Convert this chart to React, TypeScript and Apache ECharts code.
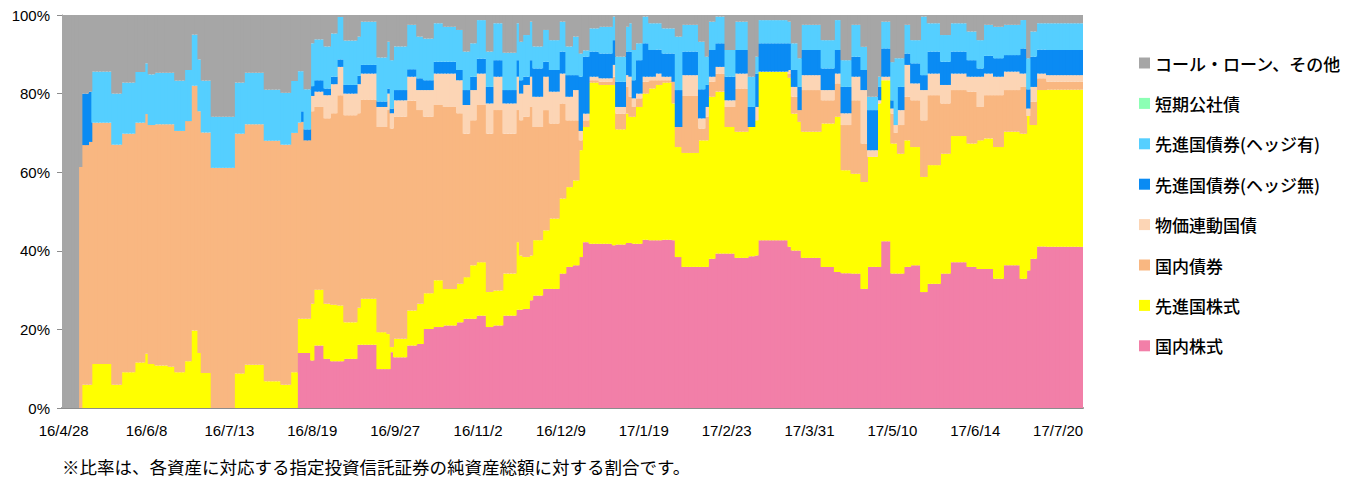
import React, { useEffect, useRef } from "react";
import * as echarts from "echarts";

// Number of business days covered by each constant step (segment) of the chart
const segDays = [
  5, 1, 2, 1, 6, 3, 4, 3, 1, 2, 4, 2, 3, 2, 2, 1, 3, 7, 3, 6, 5, 3, 2, 1, 1,
  2, 1, 3, 2, 2, 2, 4, 1, 5, 3, 1, 1, 4, 3, 2, 3, 3, 4, 2, 2, 2, 3, 2, 3, 4,
  1, 1, 2, 1, 3, 2, 3, 2, 2, 2, 1, 2, 3, 4, 1, 3, 1, 1, 1, 2, 2, 2, 2, 3, 1,
  2, 5, 2, 1, 2, 3, 3, 4, 2, 1, 9, 1, 2, 1, 6, 4, 2, 3, 3, 2, 3, 1, 3, 1, 1,
  2, 2, 3, 2, 4, 3, 5, 3, 2, 3, 3, 5, 2, 1, 2, 3, 11,
];

// Cumulative levels (%): upper edge of each band, per segment
const domesticStockTop = [
  0, 0, 0, 0, 0, 0, 0, 0, 0, 0, 0, 0, 0, 0, 0, 0, 0, 0, 0, 0, 0, 0, 0, 14.0, 14.0,
  14.0, 12.1, 15.9, 12.5, 11.9, 11.9, 12.5, 16.1, 16.1, 9.9, 9.9, 14.2, 12.9, 15.9, 16.3,
  20.1, 20.6, 21.0, 21.8, 22.7, 22.7, 23.5, 20.6, 21.0, 23.5, 25.0, 25.0, 25.2, 27.4, 28.6,
  30.3, 30.3, 34.2, 35.9, 36.3, 38.4, 42.2, 41.8, 41.8, 41.4, 41.6, 42.0, 42.0, 41.8, 41.8,
  42.8, 42.7, 42.7, 42.8, 42.7, 38.4, 35.9, 35.9, 35.9, 38.0, 39.3, 39.3, 38.2, 38.6, 38.8,
  42.7, 41.0, 40.1, 40.1, 38.2, 35.9, 34.6, 34.3, 34.2, 30.3, 35.9, 35.9, 42.4, 34.2, 34.2,
  34.2, 35.9, 36.3, 29.5, 31.6, 34.2, 37.1, 35.9, 35.4, 35.4, 32.9, 36.3, 32.9, 35.0, 38.0,
  41.1, 41.0,
];
const foreignStockTop = [
  0, 0, 5.9, 5.9, 11.2, 5.9, 9.1, 11.6, 13.8, 11.2, 10.8, 10.5, 9.1, 11.9, 19.7, 14.0, 8.9, 0, 8.8, 11.0, 6.8, 5.9, 9.1, 22.7, 22.7,
  22.7, 26.5, 30.1, 26.5, 26.3, 26.1, 21.8, 25.5, 27.8, 19.3, 18.8, 15.5, 17.6, 24.8, 26.5,
  29.2, 32.5, 30.3, 31.6, 33.3, 36.3, 37.1, 29.5, 29.9, 34.2, 42.2, 38.8, 38.4, 38.8, 42.7,
  45.2, 48.2, 53.3, 56.2, 57.9, 65.6, 71.5, 82.8, 82.2, 82.2, 70.9, 74.9, 74.1, 74.1, 76.6,
  80.0, 81.3, 82.2, 82.8, 77.5, 66.4, 64.9, 68.1, 68.1, 79.2, 80.5, 71.5, 70.3, 71.5, 73.2,
  85.5, 84.0, 74.9, 72.8, 70.3, 72.4, 74.1, 60.5, 59.6, 57.5, 63.9, 77.5, 83.4, 67.3, 67.3,
  64.7, 68.1, 66.4, 58.8, 61.8, 64.7, 69.2, 67.3, 68.1, 68.6, 66.4, 70.3, 69.8, 74.3, 72.0,
  80.9, 81.0,
];
const domesticBondTop = [
  0, 61.3, 66.9, 67.7, 72.6, 67.0, 69.8, 72.6, 74.8, 72.0, 72.2, 72.2, 70.5, 73.0, 82.0, 75.5, 70.1, 61.1, 69.8, 72.2, 68.0, 67.0, 70.0, 72.6, 72.8,
  68.1, 75.5, 76.6, 73.7, 75.0, 79.6, 74.5, 75.0, 78.5, 71.5, 75.8, 71.1, 74.1, 78.2, 75.8,
  74.1, 77.1, 76.6, 75.0, 69.8, 73.2, 77.1, 69.8, 75.8, 69.8, 75.8, 73.2, 74.1, 76.6, 71.5,
  75.8, 72.4, 77.5, 73.2, 73.2, 68.1, 73.2, 83.4, 83.0, 84.3, 74.9, 81.7, 79.2, 76.6, 78.8,
  83.0, 83.4, 83.4, 83.4, 83.0, 71.5, 79.4, 71.1, 74.1, 83.0, 85.1, 76.6, 81.3, 71.5, 73.2,
  85.5, 85.0, 79.2, 75.8, 80.9, 78.3, 82.6, 72.0, 78.3, 67.3, 63.9, 77.5, 83.4, 74.9, 70.0,
  72.0, 79.2, 78.3, 73.2, 79.6, 77.5, 80.9, 80.5, 76.6, 79.6, 79.6, 80.9, 81.7, 74.3, 77.9,
  83.9, 83.0,
];
const inflationLinkedTop = [
  0, 61.3, 66.9, 67.7, 72.6, 67.0, 69.8, 72.6, 74.8, 72.0, 72.2, 72.2, 70.5, 73.0, 82.0, 75.5, 70.1, 61.1, 69.8, 72.2, 68.0, 67.0, 70.0, 72.6, 72.8,
  68.1, 79.4, 80.5, 79.6, 82.4, 86.8, 80.0, 82.4, 85.1, 76.6, 80.0, 75.0, 78.3, 84.3, 80.9,
  80.9, 85.1, 85.1, 83.4, 77.1, 80.9, 85.1, 77.5, 84.3, 77.5, 84.3, 80.0, 82.2, 84.3, 79.2,
  84.3, 80.5, 85.1, 79.2, 80.9, 70.5, 74.9, 84.3, 83.9, 87.3, 76.6, 84.7, 84.3, 78.8, 80.0,
  84.3, 84.3, 85.1, 84.3, 83.0, 71.5, 84.7, 73.7, 76.6, 84.3, 86.8, 78.3, 85.1, 71.5, 76.6,
  85.6, 86.0, 81.7, 75.8, 84.7, 80.9, 85.1, 75.0, 84.3, 80.9, 65.6, 78.3, 84.3, 76.2, 72.0,
  75.8, 87.3, 82.6, 80.9, 85.1, 82.2, 85.1, 84.3, 84.3, 85.1, 84.3, 85.6, 85.1, 76.2, 81.7,
  85.1, 84.7,
];
const unhedgedBondTop = [
  0, 61.3, 80.0, 80.5, 72.6, 67.0, 69.8, 72.6, 74.8, 72.0, 72.2, 72.2, 70.5, 73.0, 82.0, 75.5, 70.1, 61.1, 69.8, 72.2, 68.0, 67.0, 70.0, 72.6, 75.5,
  70.9, 81.9, 83.4, 81.3, 84.3, 88.7, 82.2, 84.5, 87.3, 78.0, 81.3, 76.2, 80.9, 86.2, 83.9,
  83.4, 88.1, 88.1, 86.0, 80.9, 84.3, 88.9, 81.7, 88.5, 80.9, 88.5, 83.4, 84.3, 88.5, 86.4,
  88.1, 86.0, 90.7, 84.7, 84.7, 84.3, 89.4, 90.7, 90.2, 93.6, 83.0, 90.7, 90.7, 83.4, 88.5,
  92.8, 91.1, 91.2, 90.2, 90.2, 80.9, 90.7, 81.1, 82.2, 91.1, 92.8, 84.3, 91.1, 76.6, 85.1,
  92.8, 92.8, 86.0, 81.7, 91.1, 86.4, 91.1, 81.7, 89.4, 86.0, 75.8, 81.7, 91.5, 78.3, 72.0,
  81.7, 90.2, 87.7, 84.7, 90.7, 88.1, 90.7, 88.5, 86.4, 89.6, 89.0, 89.8, 91.5, 81.1, 89.4,
  91.2, 91.1,
];
const hedgedBondTop = [
  0, 61.3, 80.0, 80.5, 85.6, 80.0, 82.8, 85.5, 87.7, 84.9, 85.3, 85.3, 83.3, 86.0, 95.0, 88.7, 83.3, 74.1, 82.8, 85.3, 81.0, 80.2, 83.2, 85.7, 85.7,
  81.1, 92.8, 93.8, 92.0, 95.3, 99.5, 93.5, 94.5, 98.3, 89.2, 93.2, 88.5, 92.0, 97.5, 94.5,
  94.0, 97.9, 97.0, 96.2, 90.7, 92.8, 98.7, 90.7, 97.9, 90.4, 97.9, 93.2, 94.9, 98.3, 92.0,
  96.2, 93.6, 98.3, 92.0, 94.5, 90.2, 91.0, 96.6, 97.0, 99.6, 89.4, 97.0, 97.9, 91.1, 92.8,
  99.6, 97.9, 97.9, 96.6, 96.6, 94.5, 97.5, 93.2, 89.4, 98.3, 99.6, 91.1, 98.3, 84.3, 89.4,
  98.7, 98.3, 92.8, 89.0, 97.5, 93.6, 98.7, 88.5, 97.5, 91.9, 79.2, 84.3, 98.3, 88.0, 89.0,
  89.0, 97.5, 93.6, 99.6, 97.9, 94.9, 97.9, 95.8, 93.6, 97.5, 97.0, 97.5, 98.7, 89.0, 95.8,
  97.9, 97.9,
];

const seriesNames = [
  "国内株式",
  "先進国株式",
  "国内債券",
  "物価連動国債",
  "先進国債券(ヘッジ無)",
  "先進国債券(ヘッジ有)",
  "短期公社債",
  "コール・ローン、その他",
];
const seriesColors = [
  "#F27FA8",
  "#FFFF00",
  "#F9B781",
  "#FCD5B5",
  "#0A8BF3",
  "#55CFFF",
  "#8CFFB4",
  "#A6A6A6",
];
const legendOrder = [
  "コール・ローン、その他",
  "短期公社債",
  "先進国債券(ヘッジ有)",
  "先進国債券(ヘッジ無)",
  "物価連動国債",
  "国内債券",
  "先進国株式",
  "国内株式",
];
const yTicks = [0, 20, 40, 60, 80, 100];
const footnote = "※比率は、各資産に対応する指定投資信託証券の純資産総額に対する割合です。";

const startDate = "2016-04-28";
const holidays = [
  "2016-04-29", "2016-05-03", "2016-05-04", "2016-05-05", "2016-07-18",
  "2016-08-11", "2016-09-19", "2016-09-22", "2016-10-10", "2016-11-03",
  "2016-11-23", "2016-12-23", "2017-01-02", "2017-01-03", "2017-01-09",
  "2017-03-20", "2017-05-03", "2017-05-04", "2017-05-05", "2017-07-17",
];

function businessDays(n: number): string[] {
  const hs = new Set(holidays);
  const out: string[] = [];
  const [y0, m0, d0] = startDate.split("-").map(Number);
  const d = new Date(Date.UTC(y0, m0 - 1, d0));
  while (out.length < n) {
    const wd = d.getUTCDay();
    const iso = d.toISOString().slice(0, 10);
    if (wd !== 0 && wd !== 6 && !hs.has(iso)) {
      out.push(
        `${String(d.getUTCFullYear()).slice(2)}/${d.getUTCMonth() + 1}/${d.getUTCDate()}`
      );
    }
    d.setUTCDate(d.getUTCDate() + 1);
  }
  return out;
}

function expand(levels: number[]): number[] {
  const out: number[] = [];
  segDays.forEach((n, k) => {
    for (let j = 0; j < n; j++) out.push(levels[k]);
  });
  return out;
}

const GRID_LEFT = 62;
const GRID_RIGHT = 266;
const WIDTH = 1349;

export default function App() {
  const ref = useRef<HTMLDivElement>(null);

  useEffect(() => {
    if (!ref.current) return;
    const chart = echarts.init(ref.current, undefined, { renderer: "svg" });

    const total = segDays.reduce((a, b) => a + b, 0);
    const dates = businessDays(total);

    const tops = [
      expand(domesticStockTop),
      expand(foreignStockTop),
      expand(domesticBondTop),
      expand(inflationLinkedTop),
      expand(unhedgedBondTop),
      expand(hedgedBondTop),
    ];
    const shares: (number | string)[][] = [];
    const fmt = (v: number) => {
      const r = Math.round(v * 10) / 10;
      return r > 0 ? r : "-";
    };
    tops.forEach((arr, s) => {
      shares.push(arr.map((v, i) => fmt(s === 0 ? v : v - tops[s - 1][i])));
    });
    // 短期公社債: no holdings in the period
    shares.push(dates.map(() => "-"));
    // コール・ローン、その他: remainder
    shares.push(tops[5].map((v) => fmt(100 - v)));

    // slightly wider than the band so adjacent bars overlap (hides seams)
    const band = (WIDTH - GRID_LEFT - GRID_RIGHT) / total;
    const barW = band + 1;

    const series = seriesNames.map((name, s) => ({
      name,
      type: "bar" as const,
      stack: "total",
      barWidth: barW,
      data: shares[s],
      itemStyle: { color: seriesColors[s] },
      emphasis: { disabled: true },
    }));

    chart.setOption({
      animation: false,
      grid: { left: GRID_LEFT, right: GRID_RIGHT, top: 15, bottom: 70, containLabel: false },
      legend: {
        orient: "vertical",
        left: 1139,
        top: 54,
        padding: 0,
        icon: "rect",
        itemWidth: 11,
        itemHeight: 11,
        itemGap: 22.4,
        data: legendOrder,
        selectedMode: false,
        textStyle: {
          fontFamily: "Noto Sans CJK JP",
          fontSize: 17,
          fontWeight: 500,
          lineHeight: 18,
          color: "#000",
        },
      },
      xAxis: {
        type: "category",
        data: dates,
        boundaryGap: true,
        axisLine: { show: true, lineStyle: { color: "#8c8c8c", width: 2 } },
        axisTick: { show: false },
        axisLabel: {
          interval: 24,
          hideOverlap: false,
          fontFamily: "Liberation Sans",
          fontSize: 15,
          color: "#000",
          margin: 15,
        },
        splitLine: { show: false },
      },
      yAxis: {
        type: "value",
        min: yTicks[0],
        max: yTicks[yTicks.length - 1],
        interval: yTicks[1] - yTicks[0],
        axisLine: { show: true, lineStyle: { color: "#8c8c8c", width: 1 } },
        axisTick: { show: true, length: 5, lineStyle: { color: "#8c8c8c" } },
        splitLine: { show: false },
        axisLabel: {
          formatter: "{value}%",
          fontFamily: "Liberation Sans",
          fontSize: 15,
          color: "#000",
          margin: 12,
        },
      },
      graphic: [
        {
          type: "text",
          left: 62,
          top: 458,
          style: {
            text: footnote,
            fontFamily: "Noto Sans CJK JP",
            fontSize: 17.5,
            fill: "#000",
          },
        },
      ],
      series,
    });

    return () => chart.dispose();
  }, []);

  return (
    <div
      ref={ref}
      style={{ position: "absolute", left: 0, top: 0, width: WIDTH, height: 478 }}
    />
  );
}
